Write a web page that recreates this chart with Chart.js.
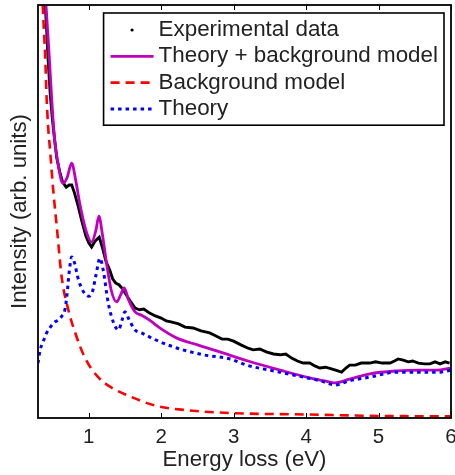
<!DOCTYPE html>
<html>
<head>
<meta charset="utf-8">
<script src="https://cdn.jsdelivr.net/npm/chart.js@4.4.0/dist/chart.umd.min.js"></script>
<style>
  body { margin: 0; background: #fff; }
  canvas { display: block; }
</style>
</head>
<body>
<canvas id="lossChart" width="455" height="475"></canvas>
<script>
// tick positions on the energy axis (eV)
var xTickValues = [1, 2, 3, 4, 5, 6];

// measured loss spectrum
var expEnergy = [0.40, 0.42, 0.44, 0.47, 0.50, 0.53, 0.56, 0.60, 0.64, 0.69,
    0.73, 0.765, 0.80, 0.85, 0.90, 0.96, 1.00, 1.04, 1.09, 1.145,
    1.19, 1.24, 1.29, 1.33, 1.37, 1.42, 1.47, 1.52, 1.58, 1.64,
    1.70, 1.76, 1.84, 1.92, 2.00, 2.07, 2.15, 2.24, 2.33, 2.44,
    2.55, 2.67, 2.75, 2.84, 2.92, 3.00, 3.10, 3.20, 3.27, 3.36,
    3.45, 3.55, 3.64, 3.72, 3.80, 3.88, 3.96, 4.05, 4.12, 4.19,
    4.27, 4.35, 4.44, 4.49, 4.55, 4.60, 4.68, 4.76, 4.88, 4.96,
    5.05, 5.16, 5.22, 5.27, 5.34, 5.41, 5.47, 5.55, 5.63, 5.71,
    5.78, 5.85, 5.92, 5.98];
var expIntensity = [100.0, 93.9, 86.7, 78.2, 72.1, 67.3, 62.9, 59.6, 57.1, 55.9,
    56.4, 56.4, 54.7, 51.6, 48.0, 44.1, 42.4, 41.4, 42.9, 43.8,
    41.2, 37.8, 35.8, 33.7, 32.7, 32.2, 31.2, 29.8, 28.1, 26.6,
    26.2, 26.4, 25.4, 24.7, 24.2, 23.5, 23.2, 22.8, 22.0, 21.8,
    21.1, 20.6, 19.9, 19.1, 19.1, 18.6, 17.7, 16.9, 16.5, 16.7,
    16.0, 15.5, 15.3, 15.5, 14.5, 13.8, 13.3, 13.3, 12.6, 12.1,
    12.3, 11.9, 11.4, 11.1, 12.1, 12.8, 12.8, 13.3, 13.3, 13.6,
    13.3, 13.3, 13.8, 14.3, 14.0, 13.6, 13.8, 13.3, 13.1, 13.1,
    13.6, 13.1, 13.6, 13.3];

// theory + background fit
var fitEnergy = [0.36, 0.41, 0.45, 0.49, 0.53, 0.58, 0.62, 0.65, 0.70, 0.765,
    0.82, 0.88, 0.96, 1.04, 1.10, 1.14, 1.19, 1.25, 1.31, 1.385,
    1.44, 1.49, 1.55, 1.64, 1.73, 1.84, 1.98, 2.21, 2.5, 2.81,
    3.2, 3.64, 4.05, 4.25, 4.4, 4.6, 4.88, 5.25, 5.57, 5.8, 6.0];
var fitIntensity = [113.8, 100.0, 89.1, 77.0, 67.3, 61.3, 57.6, 56.9, 58.1, 61.7,
    57.6, 51.6, 45.5, 42.6, 45.5, 48.9, 44.3, 37.0, 31.0, 28.1,
    29.8, 31.5, 28.6, 25.7, 24.9, 23.7, 21.8, 19.4, 17.7, 16.0,
    13.8, 11.6, 9.7, 9.0, 8.5, 9.4, 10.7, 11.4, 11.6, 11.6, 12.1];

// background model
var bgEnergy = [0.34, 0.365, 0.40, 0.42, 0.44, 0.466, 0.51, 0.56, 0.627, 0.72,
    0.81, 0.95, 1.13, 1.32, 1.52, 1.94, 2.35, 2.95, 4.0, 5.0, 6.0];
var bgIntensity = [110.9, 100.0, 87.2, 77.0, 70.5, 65.0, 55.2, 46.2, 34.1, 26.1,
    20.8, 14.5, 9.9, 7.3, 5.6, 2.9, 1.9, 1.2, 0.85, 0.5, 0.4];

// theory alone
var thEnergy = [0.30, 0.33, 0.37, 0.42, 0.47, 0.53, 0.58, 0.63, 0.67, 0.70,
    0.73, 0.765, 0.80, 0.86, 0.93, 1.00, 1.05, 1.10, 1.155, 1.20,
    1.27, 1.34, 1.41, 1.46, 1.50, 1.56, 1.64, 1.73, 1.90, 2.17,
    2.58, 2.95, 3.18, 3.64, 3.96, 4.20, 4.40, 4.60, 4.88, 5.25,
    5.57, 5.85, 6.00];
var thIntensity = [13.3, 16.5, 18.4, 20.6, 22.0, 23.2, 23.7, 24.7, 26.1, 29.8,
    35.3, 39.0, 37.8, 33.4, 30.5, 29.5, 30.5, 34.6, 38.7, 35.8,
    27.8, 23.2, 21.3, 23.7, 25.7, 23.7, 21.3, 20.6, 19.1, 17.2,
    15.3, 14.3, 12.8, 11.1, 9.9, 9.0, 8.0, 9.0, 9.9, 11.1,
    11.1, 11.1, 11.6];

var FONT = '"Liberation Sans", Arial, Helvetica, sans-serif';
var TEXT_COLOR = '#222';

function pairs(xs, ys) {
    return xs.map(function (x, i) { return { x: x, y: ys[i] }; });
}

// box around the plot plus inward ticks on top and bottom edges
var frameTicks = {
    id: 'frameTicks',
    afterDatasetsDraw: function (chart) {
        var ctx = chart.ctx, a = chart.chartArea, xs = chart.scales.x;
        ctx.save();
        ctx.strokeStyle = '#000';
        ctx.lineWidth = 1.8;
        ctx.strokeRect(a.left, a.top, a.right - a.left, a.bottom - a.top);
        ctx.lineWidth = 1;
        ctx.beginPath();
        xs.ticks.forEach(function (t) {
            var px = Math.round(xs.getPixelForValue(t.value)) + 0.5;
            ctx.moveTo(px, a.bottom);
            ctx.lineTo(px, a.bottom - 5);
            ctx.moveTo(px, a.top);
            ctx.lineTo(px, a.top + 5);
        });
        ctx.stroke();
        ctx.restore();
    }
};

// boxed legend in the upper right corner of the plot
var boxLegend = {
    id: 'boxLegend',
    afterDraw: function (chart) {
        var ctx = chart.ctx, a = chart.chartArea;
        var sets = chart.data.datasets;
        var fontSize = 22.4, rowH = 26.3, symW = 43;
        ctx.save();
        ctx.font = fontSize + 'px ' + FONT;
        var textW = 0;
        sets.forEach(function (d) { textW = Math.max(textW, ctx.measureText(d.label).width); });
        var w = 7 + symW + 5 + textW + 6;
        var h = rowH * sets.length + 7;
        var right = a.right - 7, top = a.top + 8, left = right - w;
        ctx.fillStyle = '#fff';
        ctx.fillRect(left, top, w, h);
        ctx.strokeStyle = '#000';
        ctx.lineWidth = 1.6;
        ctx.strokeRect(left, top, w, h);

        sets.forEach(function (d, i) {
            var cy = top + 17 + i * rowH;
            var sx = left + 7;
            if (d.legendDot) {
                ctx.fillStyle = d.borderColor;
                ctx.beginPath();
                ctx.arc(sx + symW / 2, cy, 1.6, 0, Math.PI * 2);
                ctx.fill();
            } else {
                ctx.strokeStyle = d.borderColor;
                ctx.lineWidth = d.borderWidth;
                ctx.setLineDash(d.borderDash || []);
                ctx.beginPath();
                ctx.moveTo(sx, cy);
                ctx.lineTo(sx + symW, cy);
                ctx.stroke();
                ctx.setLineDash([]);
            }
            ctx.fillStyle = TEXT_COLOR;
            ctx.textBaseline = 'middle';
            ctx.textAlign = 'left';
            ctx.fillText(d.label, sx + symW + 5, cy);
        });
        ctx.restore();
    }
};

var ctx = document.getElementById('lossChart').getContext('2d');

var chart = new Chart(ctx, {
    type: 'line',
    data: {
        datasets: [{
            label: 'Experimental data',
            data: pairs(expEnergy, expIntensity),
            borderColor: '#000',
            borderWidth: 2.9,
            pointRadius: 0,
            tension: 0,
            legendDot: true,
            order: 4
        }, {
            label: 'Theory + background model',
            data: pairs(fitEnergy, fitIntensity),
            borderColor: '#bf00bf',
            borderWidth: 2.8,
            pointRadius: 0,
            cubicInterpolationMode: 'monotone',
            order: 3
        }, {
            label: 'Background model',
            data: pairs(bgEnergy, bgIntensity),
            borderColor: '#ff0000',
            borderWidth: 2.6,
            borderDash: [9, 6],
            pointRadius: 0,
            cubicInterpolationMode: 'monotone',
            order: 2
        }, {
            label: 'Theory',
            data: pairs(thEnergy, thIntensity),
            borderColor: '#0000ff',
            borderWidth: 3,
            borderDash: [3.5, 4],
            pointRadius: 0,
            cubicInterpolationMode: 'monotone',
            order: 1
        }]
    },
    options: {
        responsive: false,
        animation: false,
        layout: { padding: { top: 5, right: 4, left: 0, bottom: 0 } },
        plugins: {
            legend: { display: false },
            tooltip: { enabled: false }
        },
        scales: {
            x: {
                type: 'linear',
                min: 0.3,
                max: 6,
                afterBuildTicks: function (s) {
                    s.ticks = xTickValues.map(function (v) { return { value: v }; });
                },
                afterFit: function (s) {
                    s.height = 57;
                    // let the last tick label hang past the plot edge
                    s.paddingLeft = 0;
                    s.paddingRight = 0;
                },
                grid: { display: false, drawTicks: false },
                border: { display: false },
                ticks: {
                    padding: 7,
                    color: TEXT_COLOR,
                    font: { family: FONT, size: 20.5 },
                    maxRotation: 0
                },
                title: {
                    display: true,
                    text: 'Energy loss (eV)',
                    color: TEXT_COLOR,
                    font: { family: FONT, size: 22.2 },
                    padding: { top: 0, bottom: 1.5 }
                }
            },
            y: {
                min: 0,
                max: 100,
                afterFit: function (s) { s.width = 38; },
                grid: { display: false, drawTicks: false },
                border: { display: false },
                ticks: { display: false },
                title: {
                    display: true,
                    text: 'Intensity (arb. units)',
                    color: TEXT_COLOR,
                    font: { family: FONT, size: 22.2 },
                    padding: { top: 6.5, bottom: 0 }
                }
            }
        }
    },
    plugins: [frameTicks, boxLegend]
});
</script>
</body>
</html>
